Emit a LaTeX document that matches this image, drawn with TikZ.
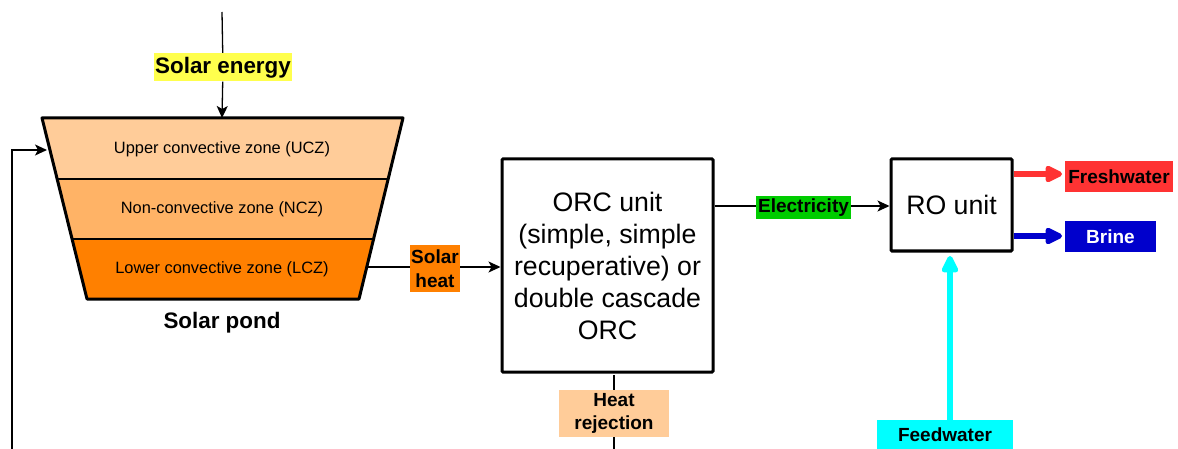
\documentclass[tikz,border=0pt]{standalone}
\usepackage{fontspec}
\setmainfont{Liberation Sans}
\usetikzlibrary{arrows.meta}
\pgfdeclarelayer{bg}
\pgfsetlayers{bg,main}
\definecolor{uczc}{HTML}{FFCC99}
\definecolor{nczc}{HTML}{FFB366}
\definecolor{lczc}{HTML}{FF8000}
\definecolor{sunc}{HTML}{FFFF4D}
\definecolor{elecc}{HTML}{00CC00}
\definecolor{freshc}{HTML}{FF3333}
\definecolor{brinec}{HTML}{0000CC}
\definecolor{feedc}{HTML}{00FFFF}
\begin{document}
\begin{tikzpicture}[x=1pt,y=-1pt,
  zonetext/.style={font=\fontsize{16.4}{19}\selectfont, inner sep=0pt},
  lab/.style={font=\fontsize{19}{23.5}\selectfont\bfseries, inner sep=0pt, align=center},
  bigbox/.style={draw, line width=3pt, rounded corners=1pt, align=center, inner sep=0pt,
    font=\fontsize{26.7}{32}\selectfont},
  conn/.style={line width=1.3pt, -{Stealth[length=12pt,width=11pt,inset=3pt]}},
  plain/.style={line width=1.3pt},
  fat/.style={line width=5.5pt, -{Triangle[length=20pt,width=18pt,round]}},
]
\useasboundingbox (0,0) rectangle (1178,449);

% solar pond
\fill[uczc] (42,118) -- (403,118) -- (388.2,179) -- (57.2,179) -- cycle;
\fill[nczc] (57.2,179) -- (388.2,179) -- (373.6,239) -- (72.1,239) -- cycle;
\fill[lczc] (72.1,239) -- (373.6,239) -- (359,299) -- (87,299) -- cycle;
\draw[line width=1.3pt] (57.2,179) -- (388.2,179);
\draw[line width=1.3pt] (72.1,239) -- (373.6,239);
\draw[line width=3pt, line join=round] (42,118) -- (403,118) -- (359,299) -- (87,299) -- cycle;

\node[zonetext] (ucz) at (222,149) {Upper convective zone (UCZ)};
\node[zonetext] (ncz) at (222,209) {Non-convective zone (NCZ)};
\node[zonetext] (lcz) at (222,269) {Lower convective zone (LCZ)};
\node[font=\fontsize{22.4}{26}\selectfont\bfseries] (pond) at (222,323) {Solar pond};

\coordinate (pondtop) at (222,118);
\coordinate (suntop) at (222,12);
\coordinate (pondleft) at (47,150);
\coordinate (loopstart) at (12,449);
\coordinate (pondright) at (366.8,267);

% labels
\node[lab, fill=sunc, minimum width=138pt, minimum height=28pt, font=\fontsize{22.4}{26}\selectfont\bfseries] (sun) at (223,67.5) {Solar energy};
\node[lab, fill=lczc, minimum width=50pt, minimum height=47pt] (sheat) at (435,268.5) {Solar\\heat};
\node[lab, fill=uczc, minimum width=110pt, minimum height=47pt] (hrej) at (614,413.5) {Heat\\rejection};
\node[lab, fill=elecc, minimum width=95pt, minimum height=23pt] (elec) at (803.5,207.5) {Electricity};
\node[lab, fill=freshc, minimum width=108pt, minimum height=31pt] (fresh) at (1119,176.5) {Freshwater};
\node[lab, fill=brinec, text=white, minimum width=91pt, minimum height=31pt] (brine) at (1110.5,236.5) {Brine};
\node[lab, fill=feedc, minimum width=136pt, minimum height=29pt] (feed) at (945,434.5) {Feedwater};

% boxes
\node[bigbox, minimum width=211pt, minimum height=213pt] (orc) at (607.5,265.5)
  {ORC unit\\(simple, simple\\recuperative) or\\double cascade\\ORC};
\node[bigbox, minimum width=121pt, minimum height=92pt] (ro) at (951.5,205) {RO unit};

\coordinate (hrejtop) at (614,375);
\coordinate (hrejbot) at (614,449);
\coordinate (freshend) at (1062,174);
\coordinate (brineend) at (1062,236);
\coordinate (feedend) at (950,256);
\coordinate (feedstart) at (950,420);

\begin{pgfonlayer}{bg}
\draw[plain] (suntop) -- (sun);
\draw[conn] (sun) -- (pondtop);
\draw[conn] (loopstart) |- (pondleft);
\draw[conn] (pondright) -- (orc.west |- pondright);
\draw[conn] (orc.east |- 0,206) -- (ro.west |- 0,206);
\draw[plain] (hrejtop) -- (hrejbot);
\draw[fat, freshc] (ro.east |- freshend) -- (freshend);
\draw[fat, brinec] (ro.east |- brineend) -- (brineend);
\draw[fat, feedc] (feedstart) -- (feedend);
\end{pgfonlayer}
\end{tikzpicture}
\end{document}
